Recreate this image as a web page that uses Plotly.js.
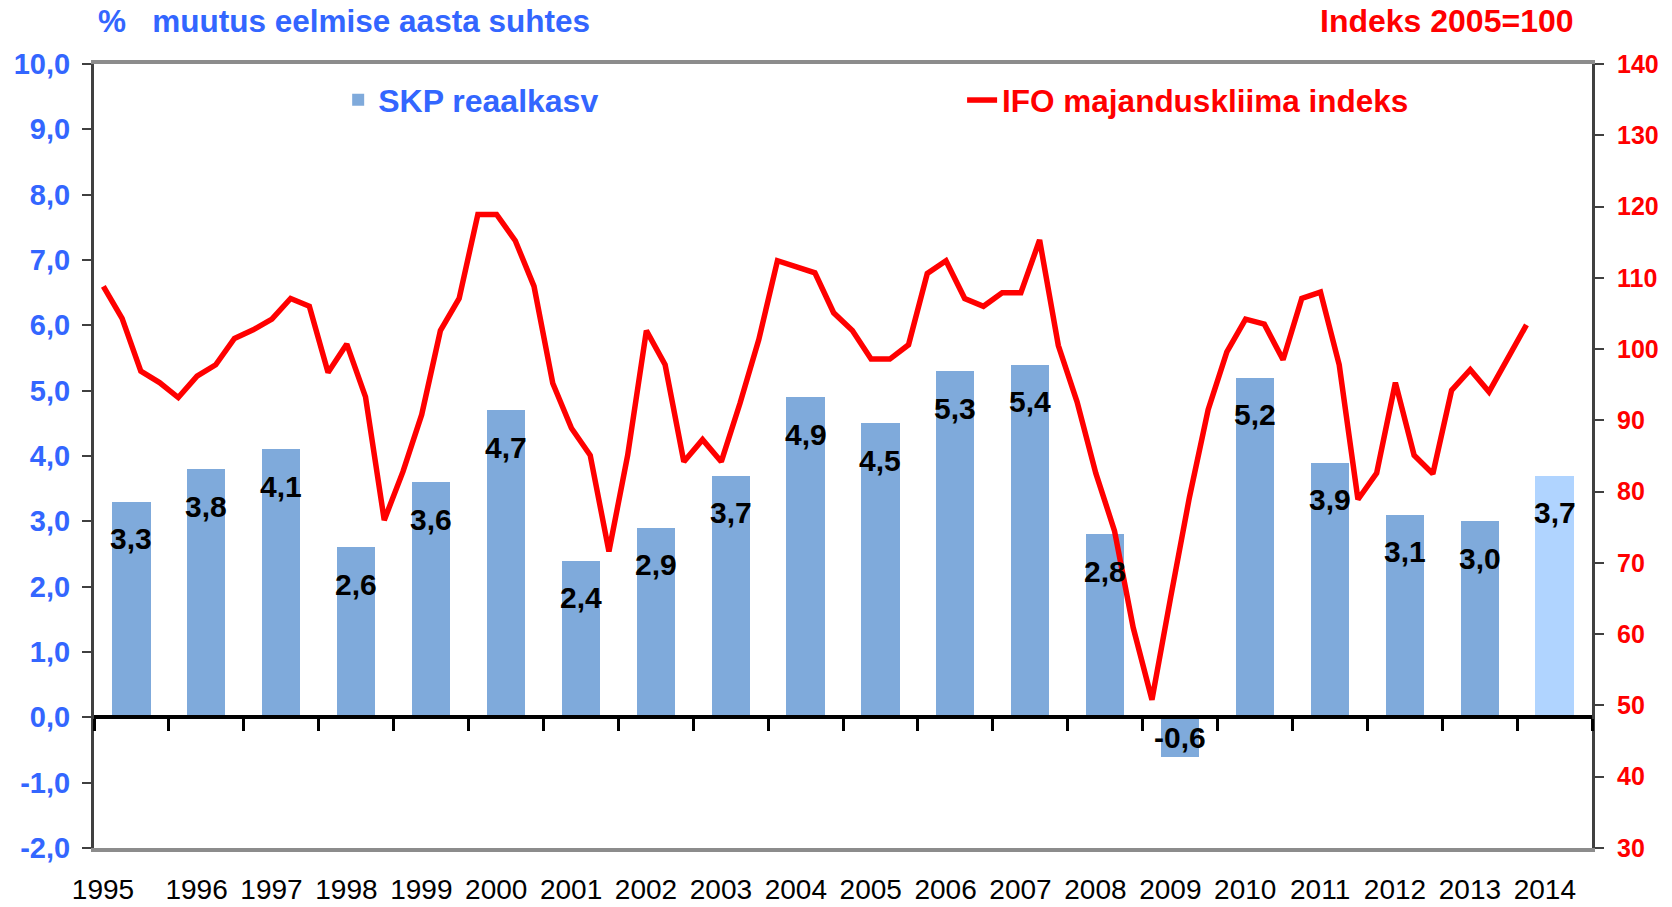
<!DOCTYPE html>
<html>
<head>
<meta charset="utf-8">
<script src="https://cdn.plot.ly/plotly-3.0.1.min.js"></script>
<style>html,body{margin:0;padding:0;background:#fff;}#chart{width:1672px;height:907px;}</style>
</head>
<body>
<div id="chart"></div>
<script>
// ---- Data ----
const years = ['1995','1996','1997','1998','1999','2000','2001','2002','2003','2004',
               '2005','2006','2007','2008','2009','2010','2011','2012','2013','2014'];
const gdpGrowth = [3.3, 3.8, 4.1, 2.6, 3.6, 4.7, 2.4, 2.9, 3.7, 4.9,
                   4.5, 5.3, 5.4, 2.8, -0.6, 5.2, 3.9, 3.1, 3.0, 3.7];
const forecastYear = '2014';
// IFO business climate index, quarterly 1995Q1 .. 2014Q1
const ifoIndex = [
  108.8, 104.3, 96.9, 95.3,   // 1995
  93.2, 96.2, 97.8, 101.5,    // 1996
  102.7, 104.2, 107.1, 106.0, // 1997
  96.7, 100.7, 93.3, 76.0,    // 1998
  82.8, 90.8, 102.6, 107.1,   // 1999
  118.9, 118.9, 115.2, 108.8, // 2000
  95.2, 88.9, 85.1, 71.6,     // 2001
  85.1, 102.6, 97.8, 84.2,    // 2002
  87.3, 84.2, 92.4, 101.3,    // 2003
  112.4, 111.6, 110.7, 105.1, // 2004
  102.6, 98.6, 98.6, 100.6,   // 2005
  110.6, 112.4, 107.1, 106.0, // 2006
  107.9, 107.9, 115.3, 100.5, // 2007
  92.6, 82.6, 74.5, 60.9,     // 2008
  50.8, 65.2, 79.2, 91.5,     // 2009
  99.6, 104.2, 103.5, 98.5,   // 2010
  107.1, 108.0, 97.8, 78.9,   // 2011
  82.6, 95.3, 85.1, 82.5,     // 2012
  94.2, 97.1, 94.0, 98.7,     // 2013
  103.4                       // 2014
];
const leftTicks = [-2,-1,0,1,2,3,4,5,6,7,8,9,10];
const rightTicks = [30,40,50,60,70,80,90,100,110,120,130,140];

// ---- Styling ----
const FONT = 'Liberation Sans, Arial, Helvetica, sans-serif';
const BLUE = '#3366FF';
const RED = '#FF0000';
const BAR = '#7FAADB';
const BAR_LIGHT = '#B0D4FF';
const fmt = v => v.toFixed(1).replace('.', ',');

const barX = years.map((y, i) => i + 0.5);
const lineX = ifoIndex.map((v, q) => q / 4 + 0.125);

const traces = [
  {
    type: 'bar', name: 'SKP reaalkasv', x: barX, y: gdpGrowth,
    width: 0.51, xaxis: 'x', yaxis: 'y',
    marker: {color: years.map(y => y === forecastYear ? BAR_LIGHT : BAR), line: {width: 0}},
    hoverinfo: 'skip', legend: 'legend'
  },
  {
    type: 'scatter', mode: 'lines', name: 'IFO majanduskliima indeks',
    x: lineX, y: ifoIndex, xaxis: 'x', yaxis: 'y2',
    line: {color: RED, width: 5.5, shape: 'linear'},
    hoverinfo: 'skip', legend: 'legend2'
  },
  // empty helper trace so the category-boundary axis at y = 0 is drawn
  {
    type: 'scatter', mode: 'lines', x: [null], y: [null], xaxis: 'x2', yaxis: 'y',
    showlegend: false, hoverinfo: 'skip'
  }
];

const annotations = gdpGrowth.map((v, i) => ({
  xref: 'x', yref: 'y', x: barX[i], y: v >= 0 ? v : 0,
  yshift: v >= 0 ? -37 : -20,
  text: fmt(v), showarrow: false, xanchor: 'center', yanchor: 'middle',
  font: {family: FONT, size: 30, color: '#000', weight: 'bold'}
}));
annotations.push({
  xref: 'paper', yref: 'paper', x: 0.989, y: 1.0548, xanchor: 'right', yanchor: 'middle',
  text: 'Indeks 2005=100', showarrow: false,
  font: {family: FONT, size: 32, color: RED, weight: 'bold'}
});

const layout = {
  width: 1672, height: 907,
  margin: {l: 94, r: 80, t: 64, b: 59, pad: 0},
  paper_bgcolor: '#fff', plot_bgcolor: '#fff',
  showlegend: true,
  bargap: 0,
  title: {
    text: '%\u00a0\u00a0\u00a0muutus eelmise aasta suhtes',
    xref: 'container', yref: 'container', x: 98 / 1672, y: 1 - 21 / 907,
    xanchor: 'left', yanchor: 'middle',
    font: {family: FONT, size: 31.5, color: BLUE, weight: 'bold'}
  },
  xaxis: {
    range: [0, 20], showgrid: false, zeroline: false, fixedrange: true,
    showline: true, mirror: true, linecolor: '#8C8C8C', linewidth: 4,
    ticks: '', tickmode: 'array',
    tickvals: years.map((y, i) => i === 0 ? 0.12 : i + 0.37),
    ticktext: years,
    tickfont: {family: FONT, size: 28, color: '#000'},
    ticklabelstandoff: 13
  },
  xaxis2: {
    overlaying: 'x', anchor: 'free', position: 2 / 12, range: [0, 20],
    showgrid: false, zeroline: false, fixedrange: true,
    showline: true, linecolor: '#000', linewidth: 4,
    ticks: 'outside', ticklen: 12, tickwidth: 3, tickcolor: '#000',
    tickmode: 'array', tickvals: years.map((y, i) => i).concat([years.length]),
    showticklabels: false
  },
  yaxis: {
    range: [-2, 10], showgrid: false, zeroline: false, fixedrange: true,
    showline: true, linecolor: '#404040', linewidth: 3,
    ticks: 'outside', ticklen: 9, tickwidth: 2, tickcolor: '#404040',
    tickmode: 'array', tickvals: leftTicks, ticktext: leftTicks.map(fmt),
    tickfont: {family: FONT, size: 29, color: BLUE, weight: 'bold'},
    ticklabelstandoff: 6
  },
  yaxis2: {
    overlaying: 'y', side: 'right', range: [30, 140],
    showgrid: false, zeroline: false, fixedrange: true,
    showline: true, linecolor: '#404040', linewidth: 3,
    ticks: 'outside', ticklen: 9, tickwidth: 2, tickcolor: '#404040',
    tickmode: 'array', tickvals: rightTicks,
    tickfont: {family: FONT, size: 25, color: RED, weight: 'bold'},
    ticklabelstandoff: 8
  },
  legend: {
    x: 0.163, y: 0.954, xanchor: 'left', yanchor: 'middle',
    bgcolor: 'rgba(0,0,0,0)', borderwidth: 0,
    font: {family: FONT, size: 32, color: BLUE, weight: 'bold'}
  },
  legend2: {
    x: 0.5795, y: 0.954, xanchor: 'left', yanchor: 'middle',
    bgcolor: 'rgba(0,0,0,0)', borderwidth: 0,
    font: {family: FONT, size: 31.5, color: RED, weight: 'bold'}
  },
  annotations: annotations
};

Plotly.newPlot('chart', traces, layout, {displayModeBar: false, staticPlot: true});
</script>
</body>
</html>
